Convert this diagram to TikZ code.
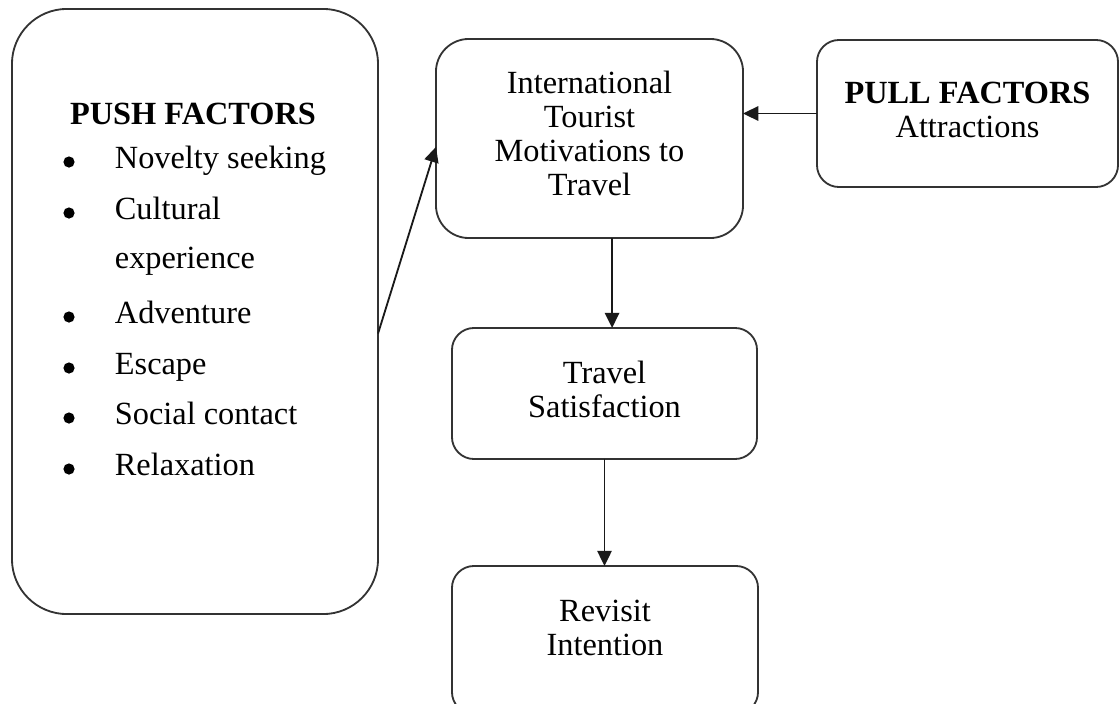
\documentclass[tikz,border=0pt]{standalone}
\usepackage{fontspec}
\setmainfont{Liberation Serif}
\usetikzlibrary{arrows.meta}
\usetikzlibrary{positioning}

\begin{document}
\begin{tikzpicture}[x=0.025cm,y=-0.025cm,>={Triangle[length=0.38cm,width=0.36cm]},
    line width=1.3pt,font=\fontsize{23}{24.2}\selectfont,
    box/.style={draw=black!80,rounded corners=0.55cm,inner sep=0pt,outer sep=0pt},
    txt/.style={align=center,inner sep=0pt},
    item/.style={anchor=base west,inner sep=0pt},
    bullet/.style={circle,fill=black,inner sep=0pt,minimum size=0.28cm}]
  \useasboundingbox (0,0) rectangle (1119,704);
  \begin{scope}
    % boxes
    \node[box,rounded corners=1.375cm,minimum width=9.15cm,minimum height=15.125cm] (push) at (195,311.5) {};
    \node[box,rounded corners=0.82cm,minimum width=7.675cm,minimum height=4.975cm] (intl) at (589.5,138.5) {};
    \node[box,minimum width=7.525cm,minimum height=3.675cm] (pull) at (967.5,113.5) {};
    \node[box,minimum width=7.625cm,minimum height=3.275cm] (sat) at (604.5,393.5) {};
    \node[box,minimum width=7.65cm,minimum height=3.7cm] (revisit) at (605,640) {};

    % box texts
    \node[txt] (intltext) at ([yshift=0.13cm]intl) {International\\Tourist\\Motivations to\\Travel};
    \node[txt] (pulltext) at ([yshift=0.1cm]pull) {\textbf{PULL FACTORS}\\Attractions};
    \node[txt] (sattext) at ([yshift=0.1cm]sat) {Travel\\Satisfaction};
    \node[txt] (revisittext) at ([yshift=0.29cm]revisit) {Revisit\\Intention};

    % push factors list
    \node[anchor=base,inner sep=0pt,font=\fontsize{23}{24.2}\selectfont\bfseries] (pushhead) at (193,124) {PUSH FACTORS};
    \foreach \y/\txt/\nm in {168/Novelty seeking/novelty, 219/Cultural/cultural, 323/Adventure/adventure,
                             374/Escape/escape, 424/Social contact/social, 475/Relaxation/relax} {
      \node[bullet] (b\nm) at (69,\y-6) {};
      \node[item] (\nm) at (114,\y) {\txt};
    }
    \node[item] (experience) at (114,268) {experience};

    % arrows
    \draw[->,black!90] ([yshift=-0.55cm]push.east) -- ([yshift=-0.21cm]intl.west);
    \draw[->,black!90] (pull.west) -- (pull.west -| intl.east);
    \draw[->,black!90] ([xshift=0.56cm]intl.south) -- ([xshift=0.19cm]sat.north);
    \draw[->,black!90] (sat.south) -- (sat.south |- revisit.north);
  \end{scope}
\end{tikzpicture}
\end{document}
